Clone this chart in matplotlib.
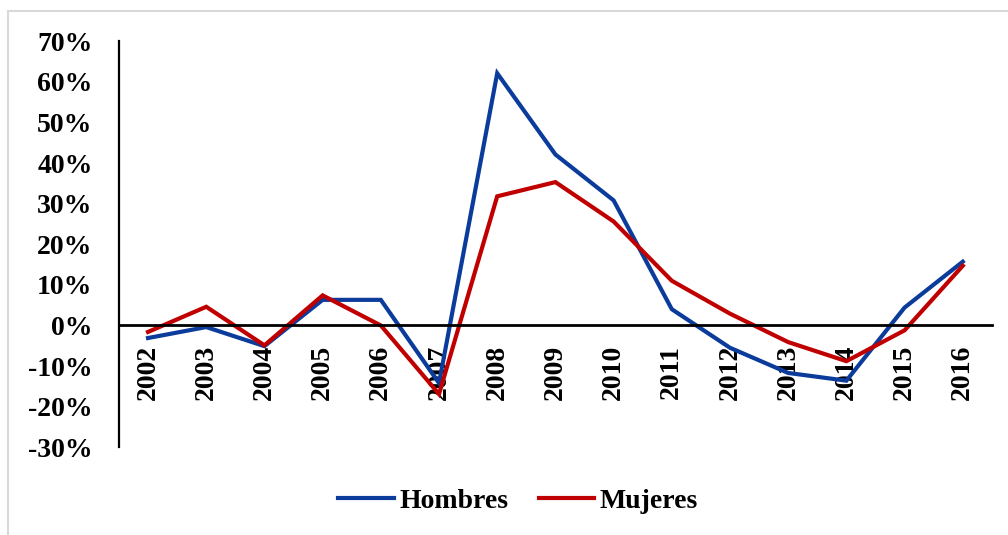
import matplotlib.pyplot as plt
from matplotlib.patches import Rectangle
from matplotlib.ticker import FuncFormatter

years = ["2002", "2003", "2004", "2005", "2006", "2007", "2008", "2009",
         "2010", "2011", "2012", "2013", "2014", "2015", "2016"]
hombres = [-3.1, -0.4, -5.1, 6.3, 6.3, -14.2, 62.1, 42.1,
           30.8, 4.0, -5.5, -11.7, -13.6, 4.4, 15.7]
mujeres = [-1.6, 4.6, -4.9, 7.4, 0.0, -16.9, 31.8, 35.3,
           25.6, 11.0, 2.9, -4.1, -8.8, -1.2, 14.7]

plt.rcParams['font.family'] = ['Liberation Serif', 'DejaVu Serif']
plt.rcParams['font.weight'] = 'bold'

fig = plt.figure(figsize=(10.08, 5.35), dpi=100)
ax = fig.add_axes([0.118, 0.164, 0.866, 0.759])

# light grey chart border
fig.patches.append(Rectangle((8 / 1008, -0.05), 1.1, 1 - 11 / 535 + 0.05,
                             transform=fig.transFigure, fill=False,
                             edgecolor='#d9d9d9', linewidth=1.5))

x = list(range(len(years)))
ax.plot(x, hombres, color='#0b3c9c', lw=3, label='Hombres', solid_joinstyle='miter')
ax.plot(x, mujeres, color='#c00000', lw=3, label='Mujeres', solid_joinstyle='miter')

for s in ['top', 'right']:
    ax.spines[s].set_visible(False)
ax.spines['bottom'].set_position(('data', 0))
ax.spines['bottom'].set_linewidth(2)
ax.spines['left'].set_linewidth(1.6)

ax.set_xlim(-0.5, len(years) - 0.5)
ax.set_ylim(-30, 70)
ax.set_yticks(range(-30, 71, 10))
ax.yaxis.set_major_formatter(FuncFormatter(lambda v, p: f"{int(v)}%"))
ax.set_xticks(x)
ax.set_xticklabels(years, rotation=90, fontsize=20, fontweight='bold')
ax.tick_params(axis='x', length=0, pad=14)
ax.tick_params(axis='y', length=0, pad=19, labelsize=20)
for lab in ax.get_yticklabels():
    lab.set_fontweight('bold')

fig.legend(loc='center', bbox_to_anchor=(0.514, 1 - 501 / 535), ncol=2,
           frameon=False, prop={'size': 20, 'weight': 'bold'},
           handlelength=2.0, handletextpad=0.2, columnspacing=1.1)

fig.savefig("out.png", dpi=100)
